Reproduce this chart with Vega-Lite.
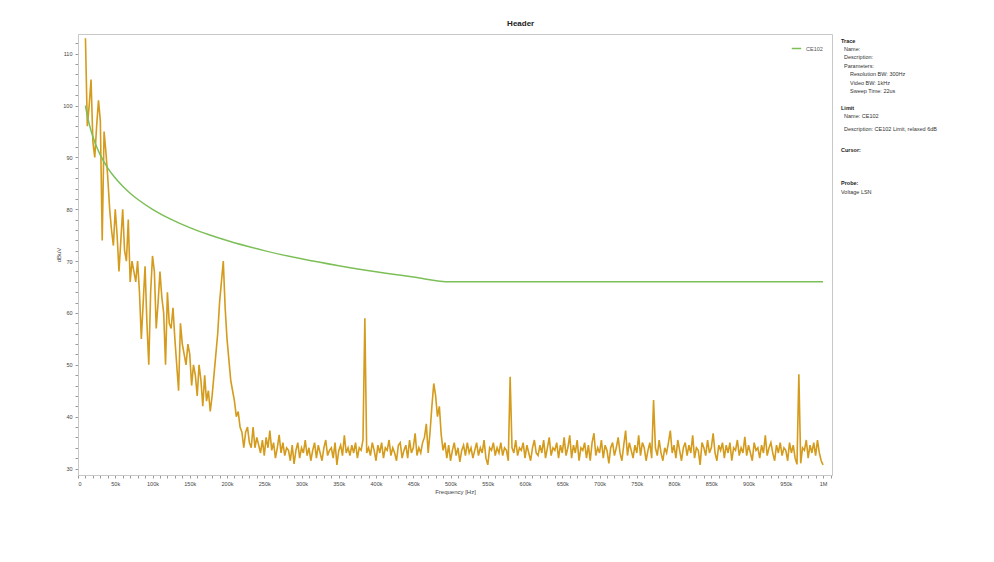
{
  "$schema": "https://vega.github.io/schema/vega-lite/v6.json",
  "background": "white",
  "padding": {"left": 55, "top": 19, "right": 5, "bottom": 5},
  "config": {"font": "Liberation Sans", "view": {"stroke": null}},
  "title": {"text": "Header", "fontSize": 8, "fontWeight": "bold", "color": "#222", "anchor": "middle", "offset": 6},
  "spacing": 8,
  "resolve": {"legend": {"color": "independent"}, "scale": {"color": "independent"}},
  "datasets": {
    "trace": [
      {"k":10,"v":113},{"k":12.5,"v":96},{"k":15,"v":100},{"k":17.5,"v":105},{"k":20,"v":93},{"k":22.5,"v":90},{"k":25,"v":96},{"k":27.5,"v":101},{"k":30,"v":97},{"k":32.5,"v":74},
      {"k":35,"v":95},{"k":37.5,"v":91},{"k":40,"v":86},{"k":42.5,"v":80},{"k":45,"v":76},{"k":47.5,"v":73},{"k":50,"v":80},{"k":52.5,"v":75},{"k":55,"v":68},{"k":57.5,"v":74},
      {"k":60,"v":80},{"k":62.5,"v":72},{"k":65,"v":70},{"k":67.5,"v":78},{"k":70,"v":66},{"k":72.5,"v":70},{"k":75,"v":68},{"k":77.5,"v":66},{"k":80,"v":70},{"k":82.5,"v":64},
      {"k":85,"v":55},{"k":87.5,"v":62},{"k":90,"v":69},{"k":92.5,"v":58},{"k":95,"v":50},{"k":97.5,"v":64},{"k":100,"v":71},{"k":102.5,"v":68},{"k":105,"v":57},{"k":107.5,"v":62},
      {"k":110,"v":68},{"k":112.5,"v":63},{"k":115,"v":60},{"k":117.5,"v":50},{"k":120,"v":64},{"k":122.5,"v":58},{"k":125,"v":57},{"k":127.5,"v":61},{"k":130,"v":55},{"k":132.5,"v":50},
      {"k":135,"v":45},{"k":137.5,"v":58},{"k":140,"v":54},{"k":142.5,"v":52},{"k":145,"v":50},{"k":147.5,"v":54},{"k":150,"v":52},{"k":152.5,"v":46},{"k":155,"v":50},{"k":157.5,"v":48},
      {"k":160,"v":44},{"k":162.5,"v":50},{"k":165,"v":47},{"k":167.5,"v":42},{"k":170,"v":48},{"k":172.5,"v":43},{"k":175,"v":45},{"k":177.5,"v":41},{"k":180,"v":44},{"k":182.5,"v":48},
      {"k":185,"v":52},{"k":187.5,"v":56},{"k":190,"v":62},{"k":192.5,"v":66},{"k":195,"v":70},{"k":197.5,"v":61},{"k":200,"v":55},{"k":202.5,"v":51},{"k":205,"v":47},{"k":207.5,"v":45},
      {"k":210,"v":43},{"k":212.5,"v":40},{"k":215,"v":41},{"k":217.5,"v":38},{"k":220,"v":37},{"k":222.5,"v":34},{"k":225,"v":37},{"k":227.5,"v":38},{"k":230,"v":35},{"k":232.5,"v":34},
      {"k":235,"v":38},{"k":237.5,"v":34},{"k":240,"v":36},
      {"k":242.5,"v":34.5},{"k":245,"v":33},{"k":247.5,"v":35.5},{"k":250,"v":32.5},{"k":252.5,"v":36},{"k":255,"v":34},{"k":257.5,"v":37.3},{"k":260,"v":33.5},{"k":262.5,"v":35},{"k":265,"v":32},
      {"k":267.5,"v":34},{"k":270,"v":36.5},{"k":272.5,"v":33},{"k":275,"v":35},{"k":277.5,"v":32.5},{"k":280,"v":34},{"k":282.5,"v":33.5},{"k":285,"v":31.5},{"k":287.5,"v":34.5},{"k":290,"v":30.9},
      {"k":292.5,"v":33.5},{"k":295,"v":35},{"k":297.5,"v":32},{"k":300,"v":34},{"k":302.5,"v":33},{"k":305,"v":35.5},{"k":307.5,"v":32.5},{"k":310,"v":34},{"k":312.5,"v":31.5},{"k":315,"v":33.5},
      {"k":317.5,"v":35},{"k":320,"v":32},{"k":322.5,"v":34.5},{"k":325,"v":33},{"k":327.5,"v":31.5},{"k":330,"v":34},{"k":332.5,"v":35.5},{"k":335,"v":32.5},{"k":337.5,"v":33.5},{"k":340,"v":34},
      {"k":342.5,"v":32},{"k":345,"v":35},{"k":347.5,"v":30.7},{"k":350,"v":33.5},{"k":352.5,"v":34.5},{"k":355,"v":32.5},{"k":357.5,"v":36.4},{"k":360,"v":33},{"k":362.5,"v":34},{"k":365,"v":32.5},
      {"k":367.5,"v":34.5},{"k":370,"v":33},{"k":372.5,"v":35},{"k":375,"v":32},{"k":377.5,"v":34},{"k":380,"v":33.5},{"k":382.5,"v":35.5},{"k":385,"v":59},{"k":387.5,"v":33},{"k":390,"v":34},
      {"k":392.5,"v":32.5},{"k":395,"v":35},{"k":397.5,"v":33.5},{"k":400,"v":31.5},{"k":402.5,"v":34.5},{"k":405,"v":33},{"k":407.5,"v":35},{"k":410,"v":32},{"k":412.5,"v":34},{"k":415,"v":33.5},
      {"k":417.5,"v":35.5},{"k":420,"v":32.5},{"k":422.5,"v":34},{"k":425,"v":33},{"k":427.5,"v":31.5},{"k":430,"v":34.5},{"k":432.5,"v":35},{"k":435,"v":32},{"k":437.5,"v":33.5},{"k":440,"v":34.5},
      {"k":442.5,"v":32},{"k":445,"v":35.5},{"k":447.5,"v":33},{"k":450,"v":34},{"k":452.5,"v":36.8},{"k":455,"v":32.5},{"k":457.5,"v":34},{"k":460,"v":33},{"k":462.5,"v":35},{"k":465,"v":36},
      {"k":467.5,"v":38.6},{"k":470,"v":33},{"k":472.5,"v":37},{"k":475,"v":42},{"k":477.5,"v":46.4},{"k":480,"v":44},{"k":482.5,"v":40},{"k":485,"v":42},{"k":487.5,"v":36.5},{"k":490,"v":33.5},
      {"k":492.5,"v":35},{"k":495,"v":32},{"k":497.5,"v":34.5},{"k":500,"v":31.5},{"k":502.5,"v":33.5},{"k":505,"v":35},{"k":507.5,"v":32.5},{"k":510,"v":34},{"k":512.5,"v":31.3},{"k":515,"v":33.5},
      {"k":517.5,"v":34.5},{"k":520,"v":32.5},{"k":522.5,"v":35},{"k":525,"v":33},{"k":527.5,"v":34},{"k":530,"v":32},{"k":532.5,"v":33.5},{"k":535,"v":35},{"k":537.5,"v":32.5},{"k":540,"v":34},
      {"k":542.5,"v":33},{"k":545,"v":35.5},{"k":547.5,"v":32},{"k":550,"v":30.7},{"k":552.5,"v":34},{"k":555,"v":33.5},{"k":557.5,"v":35},{"k":560,"v":32.5},{"k":562.5,"v":34},{"k":565,"v":33},
      {"k":567.5,"v":35},{"k":570,"v":32.5},{"k":572.5,"v":34},{"k":575,"v":33.5},{"k":577.5,"v":31.5},{"k":580,"v":47.7},{"k":582.5,"v":34},{"k":585,"v":33},{"k":587.5,"v":35.5},{"k":590,"v":32.5},
      {"k":592.5,"v":34},{"k":595,"v":33.5},{"k":597.5,"v":35},{"k":600,"v":32},{"k":602.5,"v":34.5},{"k":605,"v":33},{"k":607.5,"v":31.5},{"k":610,"v":34},{"k":612.5,"v":35.5},{"k":615,"v":33},
      {"k":617.5,"v":32.5},{"k":620,"v":34.5},{"k":622.5,"v":33},{"k":625,"v":35.5},{"k":627.5,"v":32},{"k":630,"v":34},{"k":632.5,"v":36},{"k":635,"v":32.5},{"k":637.5,"v":34},{"k":640,"v":33.5},
      {"k":642.5,"v":35},{"k":645,"v":32},{"k":647.5,"v":34.5},{"k":650,"v":33},{"k":652.5,"v":36},{"k":655,"v":32.5},{"k":657.5,"v":34},{"k":660,"v":36.4},{"k":662.5,"v":32},{"k":665,"v":34.5},
      {"k":667.5,"v":33},{"k":670,"v":35.5},{"k":672.5,"v":31.5},{"k":675,"v":34},{"k":677.5,"v":33.5},{"k":680,"v":35},{"k":682.5,"v":32},{"k":685,"v":34.5},{"k":687.5,"v":31.5},{"k":690,"v":35},
      {"k":692.5,"v":36.8},{"k":695,"v":32.5},{"k":697.5,"v":34},{"k":700,"v":33},{"k":702.5,"v":35.5},{"k":705,"v":32},{"k":707.5,"v":34.5},{"k":710,"v":33.5},{"k":712.5,"v":31},{"k":715,"v":34},
      {"k":717.5,"v":35},{"k":720,"v":32.5},{"k":722.5,"v":34},{"k":725,"v":36},{"k":727.5,"v":33},{"k":730,"v":31.5},{"k":732.5,"v":34.5},{"k":735,"v":37.3},{"k":737.5,"v":32.5},{"k":740,"v":35},
      {"k":742.5,"v":33.5},{"k":745,"v":32},{"k":747.5,"v":34.5},{"k":750,"v":33},{"k":752.5,"v":36.4},{"k":755,"v":32.5},{"k":757.5,"v":35},{"k":760,"v":34},{"k":762.5,"v":31.5},{"k":765,"v":33.5},
      {"k":767.5,"v":35},{"k":770,"v":32},{"k":772.5,"v":43.2},{"k":775,"v":34},{"k":777.5,"v":32.5},{"k":780,"v":35.5},{"k":782.5,"v":33},{"k":785,"v":31.5},{"k":787.5,"v":34},{"k":790,"v":33},
      {"k":792.5,"v":35},{"k":795,"v":37.3},{"k":797.5,"v":33},{"k":800,"v":34.5},{"k":802.5,"v":32},{"k":805,"v":35.5},{"k":807.5,"v":33.5},{"k":810,"v":31.5},{"k":812.5,"v":34},{"k":815,"v":35},
      {"k":817.5,"v":32.5},{"k":820,"v":34.5},{"k":822.5,"v":33},{"k":825,"v":36.4},{"k":827.5,"v":32},{"k":830,"v":34},{"k":832.5,"v":33.5},{"k":835,"v":30.7},{"k":837.5,"v":35},{"k":840,"v":34},
      {"k":842.5,"v":32.5},{"k":845,"v":35.5},{"k":847.5,"v":33},{"k":850,"v":34},{"k":852.5,"v":36.8},{"k":855,"v":33},{"k":857.5,"v":31.5},{"k":860,"v":34.5},{"k":862.5,"v":33.5},{"k":865,"v":35},
      {"k":867.5,"v":32},{"k":870,"v":34.5},{"k":872.5,"v":33},{"k":875,"v":35},{"k":877.5,"v":31.5},{"k":880,"v":34},{"k":882.5,"v":33.5},{"k":885,"v":35.5},{"k":887.5,"v":32.5},{"k":890,"v":34},
      {"k":892.5,"v":33},{"k":895,"v":36.1},{"k":897.5,"v":32.5},{"k":900,"v":34.5},{"k":902.5,"v":33},{"k":905,"v":31.5},{"k":907.5,"v":35},{"k":910,"v":33.5},{"k":912.5,"v":34},{"k":915,"v":32},
      {"k":917.5,"v":34.5},{"k":920,"v":33},{"k":922.5,"v":36.4},{"k":925,"v":32.5},{"k":927.5,"v":34},{"k":930,"v":35},{"k":932.5,"v":33},{"k":935,"v":31.5},{"k":937.5,"v":34.5},{"k":940,"v":33},
      {"k":942.5,"v":35},{"k":945,"v":32.5},{"k":947.5,"v":34},{"k":950,"v":33.5},{"k":952.5,"v":31.5},{"k":955,"v":35},{"k":957.5,"v":33},{"k":960,"v":34.5},{"k":962.5,"v":32},{"k":965,"v":30.8},
      {"k":967.5,"v":48.2},{"k":970,"v":31},{"k":972.5,"v":34},{"k":975,"v":33.5},{"k":977.5,"v":35.5},{"k":980,"v":32},{"k":982.5,"v":34.5},{"k":985,"v":33},{"k":987.5,"v":35},{"k":990,"v":32.5},
      {"k":992.5,"v":35.5},{"k":995,"v":33},{"k":997.5,"v":31.5},{"k":1000,"v":30.7}
    ],
    "limit": [
      {"k":10,"v":100},{"k":12.5,"v":98.06},{"k":15,"v":96.48},{"k":20,"v":93.98},{"k":25,"v":92.04},{"k":30,"v":90.45},{"k":40,"v":87.95},{"k":50,"v":86.01},{"k":60,"v":84.43},{"k":70,"v":83.09},{"k":80,"v":81.93},{"k":100,"v":79.99},{"k":125,"v":78.05},{"k":150,"v":76.46},{"k":175,"v":75.13},{"k":200,"v":73.96},{"k":250,"v":72.02},{"k":300,"v":70.44},{"k":350,"v":69.1},{"k":400,"v":67.94},{"k":450,"v":66.92},{"k":500,"v":66},{"k":1000,"v":66}
    ],
    "info": [
      {"text":"Trace","line":0,"level":0,"kind":"head"},
      {"text":"Name:","line":1,"level":1,"kind":"item"},
      {"text":"Description:","line":2,"level":1,"kind":"item"},
      {"text":"Parameters:","line":3,"level":1,"kind":"item"},
      {"text":"Resolution BW: 300Hz","line":4,"level":3,"kind":"item"},
      {"text":"Video BW: 1kHz","line":5,"level":3,"kind":"item"},
      {"text":"Sweep Time: 22us","line":6,"level":3,"kind":"item"},
      {"text":"Limit","line":8,"level":0,"kind":"head"},
      {"text":"Name: CE102","line":9,"level":1,"kind":"item"},
      {"text":"Description: CE102 Limit, relaxed 6dB","line":10.5,"level":1,"kind":"item"},
      {"text":"Cursor:","line":13,"level":0,"kind":"head"},
      {"text":"Probe:","line":17,"level":0,"kind":"head"},
      {"text":"Voltage LSN","line":18,"level":0,"kind":"item"}
    ]
  },
  "hconcat": [
    {
      "width": 754,
      "height": 441,
      "view": {"stroke": "#c8c8c8", "strokeWidth": 1},
      "layer": [
        {
          "data": {"name": "trace"},
          "mark": {"type": "line", "color": "#D49B1C", "strokeWidth": 1.6, "clip": true},
          "encoding": {
            "x": {"field": "k", "type": "quantitative"},
            "y": {"field": "v", "type": "quantitative"}
          }
        },
        {
          "data": {"name": "limit"},
          "mark": {"type": "line", "strokeWidth": 1.5, "interpolate": "monotone", "clip": true},
          "encoding": {
            "x": {"field": "k", "type": "quantitative"},
            "y": {"field": "v", "type": "quantitative"},
            "color": {
              "datum": "CE102",
              "scale": {"domain": ["CE102"], "range": ["#7CBF57"]},
              "legend": {"orient": "top-right", "title": null, "symbolType": "stroke", "symbolStrokeWidth": 1.5, "symbolSize": 90, "labelFontSize": 5.5, "labelColor": "#555", "offset": 9, "padding": 0}
            }
          }
        }
      ],
      "encoding": {
        "x": {
          "field": "k", "type": "quantitative",
          "scale": {"domain": [0, 1012], "nice": false, "zero": false},
          "axis": {
            "title": "Frequency [Hz]", "titleFontSize": 6, "titleFontWeight": "normal", "titleColor": "#444", "titlePadding": 2,
            "values": [0,10,20,30,40,50,60,70,80,90,100,110,120,130,140,150,160,170,180,190,200,210,220,230,240,250,260,270,280,290,300,310,320,330,340,350,360,370,380,390,400,410,420,430,440,450,460,470,480,490,500,510,520,530,540,550,560,570,580,590,600,610,620,630,640,650,660,670,680,690,700,710,720,730,740,750,760,770,780,790,800,810,820,830,840,850,860,870,880,890,900,910,920,930,940,950,960,970,980,990,1000,1010],
            "labelExpr": "datum.value % 50 == 0 ? (datum.value == 0 ? '0' : (datum.value >= 1000 ? '1M' : datum.value + 'k')) : ''",
            "labelOverlap": false, "labelFontSize": 5.5, "labelColor": "#444", "labelPadding": 3,
            "tickSize": 3, "tickColor": "#999", "domainColor": "#c8c8c8", "grid": false
          }
        },
        "y": {
          "field": "v", "type": "quantitative",
          "scale": {"domain": [28.75, 113.8], "nice": false, "zero": false},
          "axis": {
            "title": "dBuV", "titleFontSize": 6, "titleFontWeight": "normal", "titleColor": "#444", "titlePadding": 1,
            "values": [30,32,34,36,38,40,42,44,46,48,50,52,54,56,58,60,62,64,66,68,70,72,74,76,78,80,82,84,86,88,90,92,94,96,98,100,102,104,106,108,110,112],
            "labelExpr": "datum.value % 10 == 0 ? datum.label : ''",
            "labelOverlap": false, "labelFontSize": 5.5, "labelColor": "#444", "labelPadding": 3,
            "tickSize": 3, "tickColor": "#999", "domainColor": "#c8c8c8", "grid": false
          }
        }
      }
    },
    {
      "width": 145,
      "height": 441,
      "data": {"name": "info"},
      "encoding": {
        "x": {"field": "level", "type": "quantitative", "scale": {"domain": [0, 48]}, "axis": null},
        "y": {"field": "line", "type": "quantitative", "scale": {"domain": [-0.8, 51.8], "reverse": true}, "axis": null},
        "text": {"field": "text"}
      },
      "layer": [
        {
          "transform": [{"filter": "datum.kind == 'head'"}],
          "mark": {"type": "text", "align": "left", "baseline": "middle", "fontSize": 5.5, "fontWeight": "bold", "color": "#222"}
        },
        {
          "transform": [{"filter": "datum.kind == 'item'"}],
          "mark": {"type": "text", "align": "left", "baseline": "middle", "fontSize": 5.5, "color": "#333"}
        }
      ]
    }
  ]
}
